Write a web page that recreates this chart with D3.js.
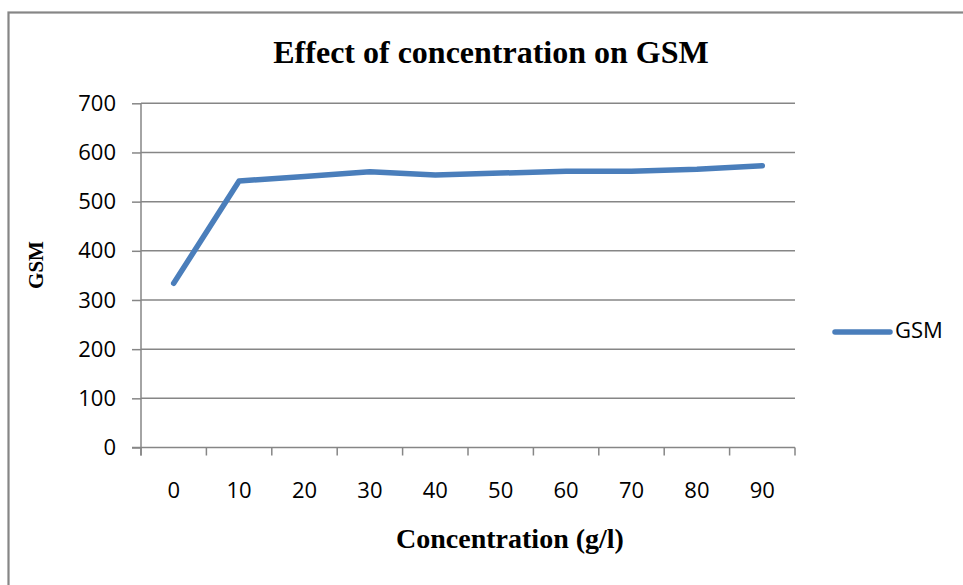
<!DOCTYPE html>
<html lang="en">
<head>
<meta charset="UTF-8" />
<title>Effect of concentration on GSM</title>
<style>
  body { margin: 0; background: #fff; }
  svg { display: block; }
  .axis path, .axis line { stroke: #868686; stroke-width: 1.5; }
  .axis text { font-family: "Open Sans", "Liberation Sans", sans-serif; font-size: 22px; fill: #000; }
  .serif { font-family: "Liberation Serif", "DejaVu Serif", serif; font-weight: bold; fill: #000; }
</style>
</head>
<body>
<script src="https://cdn.jsdelivr.net/npm/d3@7"></script>
<div id="app"></div>
<script>
// data
const concentrations = ["0", "10", "20", "30", "40", "50", "60", "70", "80", "90"];
const gsmValues = [334, 542, 551, 561, 554, 558, 562, 562, 566, 573];
const yTicks = [0, 100, 200, 300, 400, 500, 600, 700];

const w = 963, h = 585;
const plot = { left: 141, right: 795, top: 103.3, bottom: 447.5 };

const svg = d3.select("#app").append("svg")
  .attr("width", w)
  .attr("height", h);

// outer frame
svg.append("rect")
  .attr("x", 8.5).attr("y", 12.5)
  .attr("width", w + 10).attr("height", h + 10)
  .attr("fill", "#fff")
  .attr("stroke", "#868686")
  .attr("stroke-width", 2.2);

const x = d3.scaleBand()
  .domain(concentrations)
  .range([plot.left, plot.right])
  .padding(0);

const y = d3.scaleLinear()
  .domain([0, 700])
  .range([plot.bottom, plot.top]);

// grid
svg.append("g")
  .selectAll("line")
  .data(yTicks.slice(1))
  .enter()
  .append("line")
  .attr("x1", plot.left).attr("x2", plot.right)
  .attr("y1", d => y(d)).attr("y2", d => y(d))
  .attr("stroke", "#868686")
  .attr("stroke-width", 1.5);

// y axis
const yAxis = svg.append("g")
  .attr("class", "axis")
  .attr("transform", `translate(${plot.left},0)`)
  .call(d3.axisLeft(y).tickValues(yTicks).tickSize(9).tickPadding(16).tickSizeOuter(0));
yAxis.select(".domain").remove();
yAxis.append("line")
  .attr("y1", plot.top).attr("y2", plot.bottom + 8);

// x axis: ticks sit between categories
const xAxis = svg.append("g")
  .attr("class", "axis")
  .attr("transform", `translate(0,${plot.bottom})`);
xAxis.append("line")
  .attr("x1", plot.left - 9).attr("x2", plot.right);
const edges = concentrations.map(c => x(c)).concat([plot.right]);
xAxis.selectAll(".tk")
  .data(edges)
  .enter()
  .append("line")
  .attr("class", "tk")
  .attr("x1", d => d).attr("x2", d => d)
  .attr("y1", 0).attr("y2", 8);
xAxis.selectAll("text")
  .data(concentrations)
  .enter()
  .append("text")
  .attr("x", d => x(d) + x.bandwidth() / 2)
  .attr("y", 45)
  .attr("text-anchor", "middle")
  .attr("dominant-baseline", "middle")
  .text(d => d);

// series line
const line = d3.line()
  .x((d, i) => x(concentrations[i]) + x.bandwidth() / 2)
  .y(d => y(d));

svg.append("path")
  .datum(gsmValues)
  .attr("d", line)
  .attr("fill", "none")
  .attr("stroke", "#4A7EBB")
  .attr("stroke-width", 5.5)
  .attr("stroke-linejoin", "round")
  .attr("stroke-linecap", "round");

// titles
svg.append("text")
  .attr("class", "serif")
  .attr("x", 491).attr("y", 63)
  .attr("text-anchor", "middle")
  .attr("font-size", 32)
  .text("Effect of concentration on GSM");

svg.append("text")
  .attr("class", "serif")
  .attr("transform", "translate(43,265) rotate(-90)")
  .attr("text-anchor", "middle")
  .attr("font-size", 21)
  .text("GSM");

svg.append("text")
  .attr("class", "serif")
  .attr("x", 510).attr("y", 548)
  .attr("text-anchor", "middle")
  .attr("font-size", 28)
  .text("Concentration (g/l)");

// legend
const legend = svg.append("g").attr("transform", "translate(835,332)");
legend.append("line")
  .attr("x1", 0).attr("x2", 55)
  .attr("stroke", "#4A7EBB")
  .attr("stroke-width", 5.5)
  .attr("stroke-linecap", "round");
legend.append("text")
  .attr("x", 60).attr("y", 0)
  .attr("dominant-baseline", "middle")
  .attr("font-family", "'Open Sans', 'Liberation Sans', sans-serif")
  .attr("font-size", 22)
  .text("GSM");
</script>
</body>
</html>
